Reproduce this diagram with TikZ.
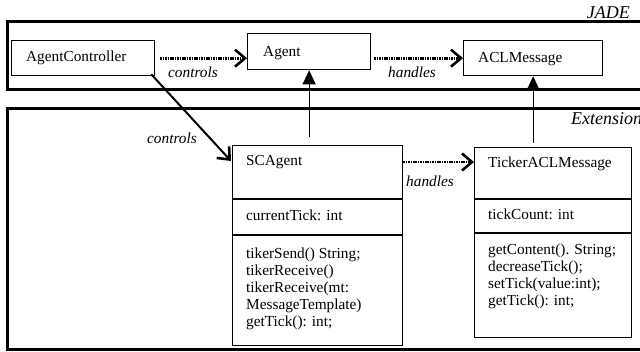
\documentclass[tikz,border=0pt]{standalone}
\usepackage{fontspec}
\setmainfont{Liberation Serif}
\usetikzlibrary{arrows.meta}
\begin{document}
\begin{tikzpicture}[x=1bp,y=-1bp,
  box/.style={draw, line width=1.3bp, inner sep=0, anchor=north west},
  frame/.style={line width=3bp},
  divider/.style={line width=1.3bp},
  txt/.style={anchor=base west, inner sep=0, font=\fontsize{15.3bp}{17bp}\selectfont},
  lbl/.style={anchor=base west, inner sep=0, font=\fontsize{15.3bp}{17bp}\selectfont\itshape},
  flbl/.style={inner sep=0, font=\fontsize{18bp}{20bp}\selectfont\itshape},
  dep/.style={line width=2.8bp, dash pattern=on 1.6bp off 0.8bp, -{Straight Barb[length=10bp,width=17bp,line width=2.6bp]}},
  ctl/.style={line width=2bp, -{Straight Barb[length=10bp,width=17bp,line width=2.6bp]}},
  inh/.style={line width=1.3bp, -{Triangle[length=14bp,width=13bp]}}
]
\useasboundingbox (0,0) rectangle (640,351);
% frames
\draw[frame] (643,21.5) -- (7,21.5) -- (7,89.5) -- (643,89.5);
\draw[frame] (643,108) -- (7,108) -- (7,349) -- (643,349);
\node[flbl, anchor=base east] (jade) at (630,18.5) {JADE};
\node[flbl, anchor=base west] (ext) at (571,124) {Extension};
% JADE classes
\node[box, minimum width=143bp, minimum height=35bp] (ac) at (11,40) {};
\node[txt] (actxt) at (26,61) {AgentController};
\node[box, minimum width=123bp, minimum height=36bp] (agent) at (247,33) {};
\node[txt] (agenttxt) at (263,56) {Agent};
\node[box, minimum width=139bp, minimum height=35bp] (acl) at (463,40) {};
\node[txt] (acltxt) at (478,62) {ACLMessage};
% SCAgent
\node[box, minimum width=170bp, minimum height=200bp] (sc) at (232,145) {};
\draw[divider] (232,199) -- (402,199);
\draw[divider] (232,235) -- (402,235);
\node[txt] (sct) at (246,165) {SCAgent};
\node[txt] (sca) at (246,220) {currentTick: int};
\node[txt] (scm1) at (246,258) {tikerSend() String;};
\node[txt] (scm2) at (246,275) {tikerReceive()};
\node[txt] (scm3) at (246,292) {tikerReceive(mt:};
\node[txt] (scm4) at (246,309) {MessageTemplate)};
\node[txt] (scm5) at (246,326) {getTick(): int;};
% TickerACLMessage
\node[box, minimum width=157bp, minimum height=190bp] (ticker) at (474,147) {};
\draw[divider] (474,199) -- (631,199);
\draw[divider] (474,233) -- (631,233);
\node[txt] (tkt) at (488,167) {TickerACLMessage};
\node[txt] (tka) at (488,219) {tickCount: int};
\node[txt] (tkm1) at (488,254) {getContent(). String;};
\node[txt] (tkm2) at (488,271) {decreaseTick();};
\node[txt] (tkm3) at (488,288) {setTick(value:int);};
\node[txt] (tkm4) at (488,305) {getTick(): int;};
% connectors
\draw[dep] ([xshift=5bp]ac.east) -- (ac.east -| agent.west);
\draw[dep] ([xshift=3bp]agent.east |- ac.east) -- (acl.west);
\coordinate (h2) at ([yshift=-17bp]sc.north east);
\draw[dep] (h2) -- (h2 -| ticker.west);
\draw[ctl] ([shift={(-4bp,2bp)}]ac.south east) -- ([shift={(-1bp,-16bp)}]sc.north west);
\path (agent.south |- sc.north) coordinate (i1a);
\draw[inh] ([yshift=8bp]i1a) -- (agent.south);
\path (acl.south |- ticker.north) coordinate (i2a);
\draw[inh] ([yshift=4bp]i2a) -- (acl.south);
% labels
\node[lbl] (l1) at (168,77) {controls};
\node[lbl] (l2) at (388,77) {handles};
\node[lbl] (l3) at (147,143) {controls};
\node[lbl] (l4) at (406,186) {handles};
\end{tikzpicture}
\end{document}
